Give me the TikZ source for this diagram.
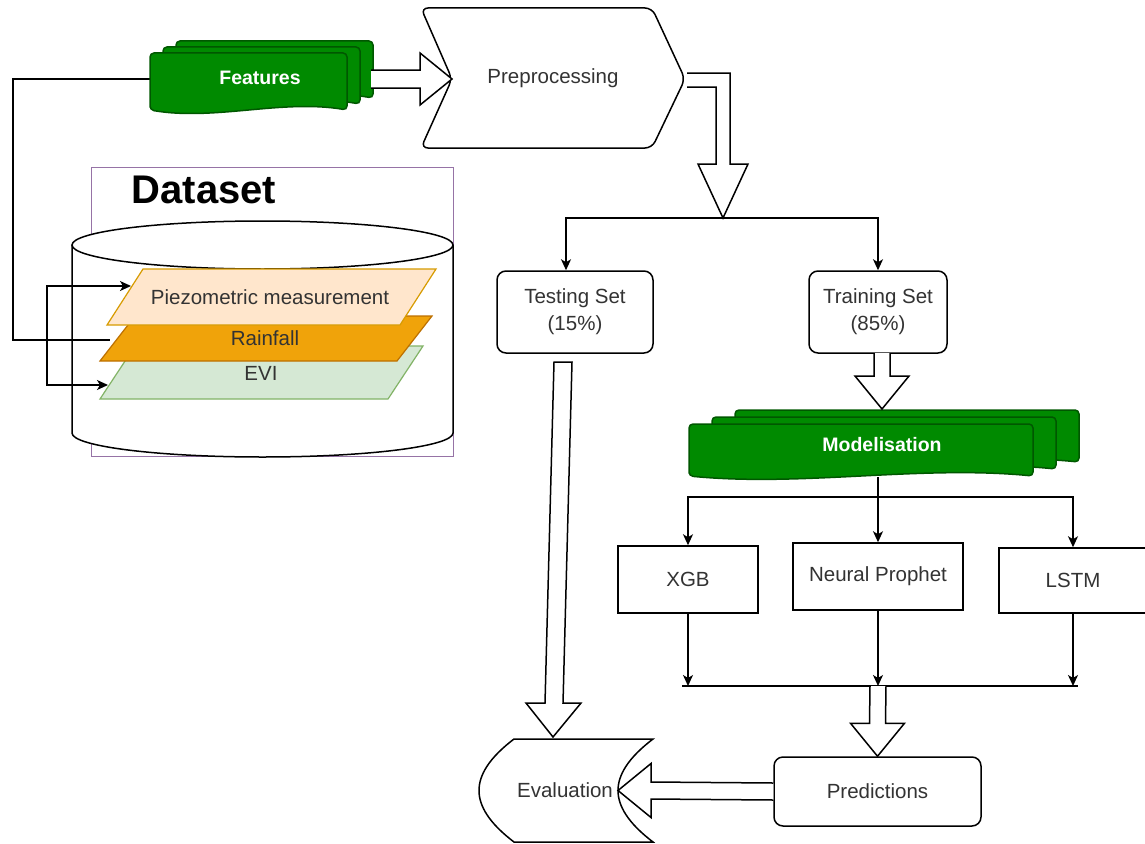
\documentclass[tikz,border=0pt]{standalone}
\usepackage{fontspec}
\setmainfont{Liberation Sans}
\usetikzlibrary{arrows.meta,calc}

\definecolor{txt}{HTML}{333333}
\definecolor{gfill}{HTML}{008A00}
\definecolor{gdraw}{HTML}{005700}
\definecolor{peachf}{HTML}{FFE6CC}
\definecolor{peachd}{HTML}{D79B00}
\definecolor{orangef}{HTML}{F0A30A}
\definecolor{oranged}{HTML}{BD7000}
\definecolor{evif}{HTML}{D5E8D4}
\definecolor{evid}{HTML}{82B366}
\definecolor{purp}{HTML}{9673A6}

% multi-document layer: x y w h d
\newcommand{\mdoclayer}[5]{%
  \path[docshape] (#1,{#2+#4}) -- (#1,#2) -- ({#1+#3},#2) -- ({#1+#3},{#2+#4})
    .. controls ({#1+0.67*#3},{#2+#4-2.2*#5}) and ({#1+0.33*#3},{#2+#4+2.2*#5}) .. (#1,{#2+#4}) -- cycle;}

\begin{document}
\begin{tikzpicture}[x=1pt,y=-1pt, line width=1.5pt,
  lbl/.style={font=\fontsize{20.5}{27}\selectfont, text=txt, align=center, inner sep=0pt},
  doclbl/.style={font=\fontsize{19.5}{23}\selectfont\bfseries, text=white, inner sep=0pt},
  rbox/.style={draw=black, fill=white, rounded corners=9pt, lbl},
  sbox/.style={draw=black, fill=white, lbl},
  conn/.style={draw=black, -{Stealth[length=11pt,width=10pt,inset=3pt]}},
  biconn/.style={draw=black, {Stealth[length=11pt,width=10pt,inset=3pt]}-{Stealth[length=11pt,width=10pt,inset=3pt]}},
  blockarrow/.style={draw=black, fill=white, line width=1.5pt, line join=miter},
  docshape/.style={draw=gdraw, fill=gfill, line width=1.5pt, rounded corners=4pt},
  layer/.style={line width=1.2pt},
]
\useasboundingbox (0,0) rectangle (1145,843);

% ---------------- Dataset ----------------
\draw[purp, line width=1pt] (91,167) rectangle (453,456);
\node[font=\fontsize{40}{44}\selectfont\bfseries, text=black, inner sep=0pt] (dstitle) at (204,190) {Dataset};

% cylinder
\draw[fill=white] (72,245) -- (72,433) arc[start angle=180, end angle=0, x radius=190.5, y radius=24] -- (453,245);
\draw[fill=white] (262.5,245) ellipse [x radius=190.5, y radius=24];

% layers
\draw[layer, draw=evid, fill=evif] (100,399) -- (388,399) -- (423,346) -- (135,346) -- cycle;
\draw[layer, draw=oranged, fill=orangef] (100,361) -- (397,361) -- (432,316) -- (135,316) -- cycle;
\draw[layer, draw=peachd, fill=peachf] (107,325) -- (400,325) -- (436,269) -- (143,269) -- cycle;
\node[lbl] (piezo) at (270,297) {Piezometric measurement};
\node[lbl] (rain) at (265,338) {Rainfall};
\node[lbl] (evi) at (261,373) {EVI};
\coordinate (piezoL) at (131,286);
\coordinate (eviL) at (108,385);
\coordinate (rainL) at (110,340);
\coordinate (loopX) at (47,286);

\draw[biconn] (piezoL) -- (loopX) |- (eviL);

% ---------------- Features ----------------
\coordinate (featL) at (150,79);
\coordinate (featR) at (371,79);
\coordinate (featK) at (13,79);
\draw (featL) -- (featK) |- (rainL);

\mdoclayer{176}{41}{197}{57}{5}
\mdoclayer{163}{47}{197}{57}{5}
\mdoclayer{150}{53}{197}{57}{5}
\node[doclbl] (feat) at (260,78) {Features};

% ---------------- Preprocessing ----------------
\draw[fill=white, rounded corners=7pt] (540,8) -- (652,8) -- (685,79) -- (652,148) -- (421,148) -- (452,79) -- (421,8) -- cycle;
\node[lbl] (prep) at (553,78) {Preprocessing};
\coordinate (prepL) at (452,79);
\coordinate (prepR) at (685,79);

\draw[blockarrow] ($(featR)+(0,-9)$) -- ($(prepL)+(-32,-9)$) -- ($(prepL)+(-32,-26)$) -- (prepL)
  -- ($(prepL)+(-32,26)$) -- ($(prepL)+(-32,9)$) -- ($(featR)+(0,9)$);

% ---------------- Split ----------------
\coordinate (split) at (723,218);
\draw[blockarrow] ($(prepR)+(2,-6)$) -| ($(split)+(7,-54)$) -- ($(split)+(25,-54)$) -- (split)
  -- ($(split)+(-25,-54)$) -- ($(split)+(-7,-54)$) |- ($(prepR)+(2,8)$);

\node[rbox, minimum width=156pt, minimum height=82pt] (test) at (575,312) {Testing Set\\(15\%)};
\node[rbox, minimum width=138pt, minimum height=82pt] (train) at (878,312) {Training Set\\(85\%)};

\draw[conn] (split) -| ($(test.north)+(-9,0)$);
\draw[conn] (split) -| (train.north);

% ---------------- Modelisation ----------------
\coordinate (trainS) at (882,353);
\coordinate (modelT) at (882,409);
\mdoclayer{735}{410}{344}{52}{5}
\mdoclayer{712}{417}{344}{52}{5}
\mdoclayer{689}{424}{344}{52}{5}
\node[doclbl] (model) at (882,445) {Modelisation};
\coordinate (modelB) at (878,477);

\draw[blockarrow] ($(trainS)+(-8,0)$) -- ($(modelT)+(-8,-33)$) -- ($(modelT)+(-27,-33)$) -- (modelT)
  -- ($(modelT)+(27,-33)$) -- ($(modelT)+(8,-33)$) -- ($(trainS)+(8,0)$);

\node[sbox, minimum width=140pt, minimum height=67pt] (xgb) at (688,579.5) {XGB};
\node[sbox, minimum width=170pt, minimum height=67pt] (np) at (878,576.5) {\raisebox{5pt}{Neural Prophet}};
\node[sbox, minimum width=148pt, minimum height=65pt] (lstm) at (1073,580.5) {LSTM};

\coordinate (mbranch) at (878,497);
\draw[conn] (modelB) -- (np.north);
\draw[conn] (mbranch) -| (xgb.north);
\draw[conn] (mbranch) -| (lstm.north);

% ---------------- Merge ----------------
\coordinate (mergeL) at (682,686);
\coordinate (mergeR) at (1078,686);
\coordinate (mergeC) at (878,686);
\draw (mergeL) -- (mergeR);
\draw[conn] (xgb.south) -- (xgb.south |- mergeL);
\draw[conn] (np.south) -- (np.south |- mergeL);
\draw[conn] (lstm.south) -- (lstm.south |- mergeL);

% ---------------- Predictions / Evaluation ----------------
\node[rbox, minimum width=207pt, minimum height=69pt] (pred) at (877.5,791.5) {Predictions};

\draw[blockarrow] ($(mergeC)+(-8,0)$) -- ($(pred.north)+(-8,-33)$) -- ($(pred.north)+(-27,-33)$) -- (pred.north)
  -- ($(pred.north)+(27,-33)$) -- ($(pred.north)+(8,-33)$) -- ($(mergeC)+(8,0)$);

\draw[fill=white] (514,739) -- (653,739) .. controls (628,758) and (618,775) .. (618,790.5)
  .. controls (618,806) and (628,823) .. (653,842) -- (514,842)
  .. controls (489,823) and (479,806) .. (479,790.5) .. controls (479,775) and (489,758) .. (514,739) -- cycle;
\node[lbl] (eval) at (565,790) {Evaluation};
\coordinate (evalR) at (618,790.5);
\coordinate (evalT) at (553,737);
\coordinate (testS) at (563,362);

\draw[blockarrow] ($(pred.west)+(0,-8.5)$) -- ($(evalR)+(33,-8.5)$) -- ($(evalR)+(33,-27)$) -- (evalR)
  -- ($(evalR)+(33,27)$) -- ($(evalR)+(33,8.5)$) -- ($(pred.west)+(0,8.5)$);

\draw[blockarrow] ($(testS)+(-9,0)$) -- ($(testS)+(9,0)$) -- ($(evalT)+(10,-34)$) -- ($(evalT)+(28,-34)$)
  -- (evalT) -- ($(evalT)+(-27,-34)$) -- ($(evalT)+(-8,-34)$) -- cycle;

\end{tikzpicture}
\end{document}
